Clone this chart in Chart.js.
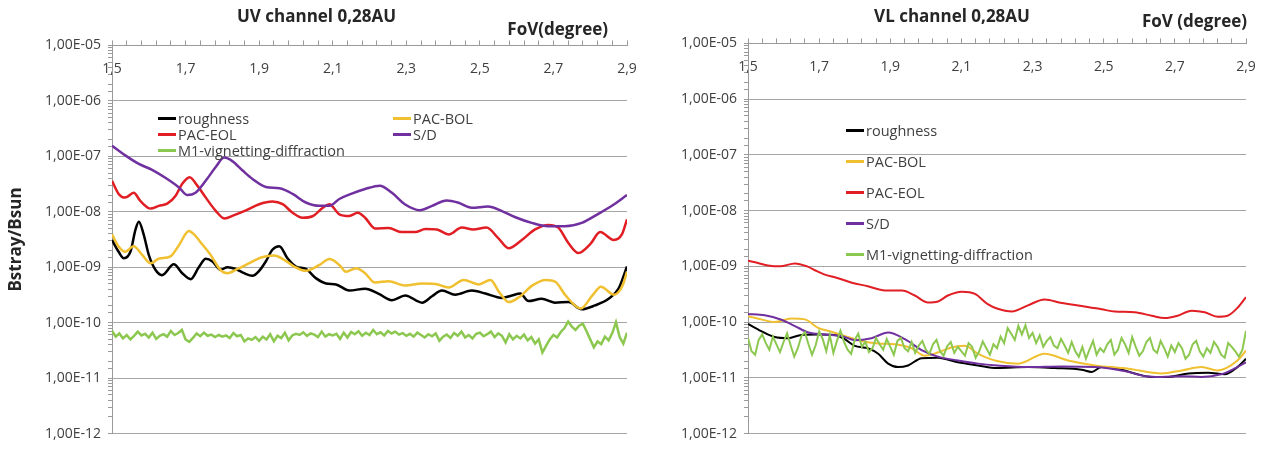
<!DOCTYPE html>
<html>
<head>
<meta charset="utf-8">
<script src="https://cdn.jsdelivr.net/npm/chart.js@4.4.1/dist/chart.umd.min.js"></script>
<style>
  body { margin: 0; background: #fff; font-family: "Open Sans", sans-serif; }
  .panel { position: absolute; top: 0; height: 449px; }
  .fov { position: absolute; font-size: 17px; font-weight: bold; color: #262626; line-height: 19px; white-space: nowrap; }
  .legend { position: absolute; display: grid; font-size: 14.5px; color: #404040; }
  .legend .item { display: flex; align-items: center; white-space: nowrap; }
  .legend .sw { width: 18px; margin-right: 2px; }
</style>
</head>
<body>
<div class="panel" style="left:0;width:640px">
  <canvas id="uvChart" width="640" height="449"></canvas>
  <div class="fov" style="right:32px;top:19px">FoV(degree)</div>
  <div class="legend" id="uvLegend" style="left:158px;top:110px;grid-template-columns:235px auto;grid-auto-rows:16px"></div>
</div>
<div class="panel" style="left:640px;width:625px">
  <canvas id="vlChart" width="625" height="449"></canvas>
  <div class="fov" style="right:18px;top:11px">FoV (degree)</div>
  <div class="legend" id="vlLegend" style="left:206px;top:115px;grid-template-columns:auto;grid-auto-rows:31px"></div>
</div>
<script>
const SERIES_NAMES = ["roughness", "PAC-BOL", "PAC-EOL", "S/D", "M1-vignetting-diffraction"];
const SERIES_COLORS = ["#000000", "#F0C030", "#E01E24", "#7030A0", "#8CC850"];

const X_TICK_VALUES = [1.5, 1.7, 1.9, 2.1, 2.3, 2.5, 2.7, 2.9];
const X_TICK_LABELS = ["1,5", "1,7", "1,9", "2,1", "2,3", "2,5", "2,7", "2,9"];
const Y_TICK_LABELS = ["1,00E-12", "1,00E-11", "1,00E-10", "1,00E-09", "1,00E-08", "1,00E-07", "1,00E-06", "1,00E-05"];

// fine FoV grid used by the noisy M1 curves
const FOV_FINE = [
  1.50, 1.51, 1.52, 1.53, 1.54, 1.55, 1.56, 1.57, 1.58, 1.59,
  1.60, 1.61, 1.62, 1.63, 1.64, 1.65, 1.66, 1.67, 1.68, 1.69,
  1.70, 1.71, 1.72, 1.73, 1.74, 1.75, 1.76, 1.77, 1.78, 1.79,
  1.80, 1.81, 1.82, 1.83, 1.84, 1.85, 1.86, 1.87, 1.88, 1.89,
  1.90, 1.91, 1.92, 1.93, 1.94, 1.95, 1.96, 1.97, 1.98, 1.99,
  2.00, 2.01, 2.02, 2.03, 2.04, 2.05, 2.06, 2.07, 2.08, 2.09,
  2.10, 2.11, 2.12, 2.13, 2.14, 2.15, 2.16, 2.17, 2.18, 2.19,
  2.20, 2.21, 2.22, 2.23, 2.24, 2.25, 2.26, 2.27, 2.28, 2.29,
  2.30, 2.31, 2.32, 2.33, 2.34, 2.35, 2.36, 2.37, 2.38, 2.39,
  2.40, 2.41, 2.42, 2.43, 2.44, 2.45, 2.46, 2.47, 2.48, 2.49,
  2.50, 2.51, 2.52, 2.53, 2.54, 2.55, 2.56, 2.57, 2.58, 2.59,
  2.60, 2.61, 2.62, 2.63, 2.64, 2.65, 2.66, 2.67, 2.68, 2.69,
  2.70, 2.71, 2.72, 2.73, 2.74, 2.75, 2.76, 2.77, 2.78, 2.79,
  2.80, 2.81, 2.82, 2.83, 2.84, 2.85, 2.86, 2.87, 2.88, 2.89,
  2.90
];

// ---- UV channel ----
const UV_ROUGH_X = [1.5, 1.518, 1.532, 1.55, 1.564, 1.573, 1.586, 1.6, 1.618, 1.636, 1.668, 1.691, 1.714, 1.736, 1.755, 1.773, 1.795, 1.814, 1.836, 1.859, 1.882, 1.9, 1.918, 1.936, 1.955, 1.977, 2.0, 2.027, 2.055, 2.082, 2.109, 2.145, 2.188, 2.224, 2.261, 2.297, 2.343, 2.37, 2.397, 2.433, 2.478, 2.515, 2.56, 2.587, 2.61, 2.632, 2.668, 2.704, 2.741, 2.777, 2.813, 2.85, 2.877, 2.9];
const UV_ROUGH = [3.1e-9, 1.9e-9, 1.45e-9, 1.9e-9, 4.8e-9, 6.6e-9, 3.9e-9, 1.67e-9, 9e-10, 7.2e-10, 1.13e-9, 7.8e-10, 6.1e-10, 1.0e-9, 1.42e-9, 1.27e-9, 9e-10, 1.0e-9, 9.3e-10, 7.8e-10, 7e-10, 8.6e-10, 1.27e-9, 2.07e-9, 2.4e-9, 1.45e-9, 1.03e-9, 9.3e-10, 6.3e-10, 5.1e-10, 4.9e-10, 3.8e-10, 4.1e-10, 3.35e-10, 2.55e-10, 3.1e-10, 2.3e-10, 3.0e-10, 3.8e-10, 3.2e-10, 3.8e-10, 3.35e-10, 2.8e-10, 3.1e-10, 3.35e-10, 2.45e-10, 2.7e-10, 2.3e-10, 2.35e-10, 1.75e-10, 2.05e-10, 2.7e-10, 4.1e-10, 1.03e-9];

const UV_BOL_X = [1.5, 1.518, 1.536, 1.559, 1.582, 1.605, 1.627, 1.659, 1.682, 1.709, 1.723, 1.745, 1.768, 1.795, 1.814, 1.841, 1.873, 1.905, 1.941, 1.968, 1.995, 2.027, 2.064, 2.091, 2.118, 2.136, 2.164, 2.188, 2.215, 2.252, 2.297, 2.343, 2.379, 2.415, 2.456, 2.497, 2.529, 2.552, 2.579, 2.607, 2.643, 2.679, 2.706, 2.733, 2.774, 2.806, 2.829, 2.865, 2.888, 2.9];
const UV_BOL = [3.9e-9, 2.37e-9, 1.9e-9, 2.4e-9, 1.67e-9, 1.18e-9, 1.42e-9, 1.57e-9, 2.5e-9, 4.5e-9, 3.9e-9, 2.6e-9, 1.67e-9, 8.9e-10, 7.8e-10, 9.3e-10, 1.18e-9, 1.5e-9, 1.63e-9, 1.36e-9, 1.03e-9, 8.6e-10, 1.1e-9, 1.4e-9, 1.1e-9, 8.3e-10, 9.6e-10, 7.8e-10, 5.3e-10, 5.6e-10, 4.7e-10, 5.1e-10, 5.0e-10, 4.3e-10, 5.9e-10, 4.9e-10, 5.9e-10, 3.6e-10, 2.35e-10, 2.9e-10, 4.7e-10, 5.9e-10, 5.4e-10, 3.1e-10, 1.8e-10, 3.1e-10, 4.45e-10, 3.2e-10, 4.7e-10, 8.3e-10];

const UV_EOL_X = [1.5, 1.518, 1.536, 1.559, 1.577, 1.605, 1.627, 1.65, 1.673, 1.691, 1.711, 1.732, 1.755, 1.782, 1.805, 1.832, 1.864, 1.9, 1.936, 1.964, 1.991, 2.018, 2.045, 2.073, 2.091, 2.118, 2.145, 2.168, 2.188, 2.215, 2.252, 2.288, 2.324, 2.352, 2.383, 2.415, 2.451, 2.482, 2.518, 2.55, 2.578, 2.614, 2.65, 2.686, 2.713, 2.741, 2.768, 2.8, 2.827, 2.864, 2.886, 2.9];
const UV_EOL = [3.6e-8, 2.1e-8, 1.8e-8, 2.2e-8, 1.57e-8, 1.14e-8, 1.28e-8, 1.4e-8, 1.95e-8, 3.2e-8, 4.2e-8, 2.96e-8, 1.8e-8, 1.04e-8, 7.6e-9, 8.7e-9, 1.06e-8, 1.37e-8, 1.53e-8, 1.37e-8, 9.6e-9, 7.8e-9, 8.3e-9, 1.18e-8, 1.37e-8, 9e-9, 8.4e-9, 9.6e-9, 7.8e-9, 5.0e-9, 5.1e-9, 4.3e-9, 4.3e-9, 4.9e-9, 4.8e-9, 3.9e-9, 5.2e-9, 4.8e-9, 5.2e-9, 3.35e-9, 2.2e-9, 3.1e-9, 4.8e-9, 5.8e-9, 5.2e-9, 2.7e-9, 1.8e-9, 2.6e-9, 4.3e-9, 3.1e-9, 3.9e-9, 7.3e-9];

const UV_SD_X = [1.5, 1.536, 1.573, 1.609, 1.645, 1.682, 1.705, 1.727, 1.755, 1.782, 1.805, 1.827, 1.855, 1.882, 1.918, 1.955, 1.991, 2.027, 2.064, 2.091, 2.118, 2.15, 2.188, 2.228, 2.261, 2.296, 2.337, 2.37, 2.41, 2.44, 2.478, 2.522, 2.56, 2.595, 2.641, 2.685, 2.731, 2.777, 2.82, 2.859, 2.9];
const UV_SD = [1.55e-7, 1.04e-7, 7.3e-8, 5.7e-8, 4.1e-8, 2.75e-8, 2.0e-8, 2.2e-8, 3.65e-8, 6.4e-8, 9.5e-8, 8.2e-8, 5.55e-8, 3.9e-8, 2.8e-8, 2.65e-8, 2.1e-8, 1.47e-8, 1.28e-8, 1.28e-8, 1.7e-8, 2.1e-8, 2.57e-8, 2.96e-8, 2.2e-8, 1.37e-8, 1.07e-8, 1.28e-8, 1.6e-8, 1.47e-8, 1.18e-8, 1.24e-8, 1.03e-8, 8.05e-9, 6.3e-9, 5.5e-9, 5.5e-9, 6.3e-9, 9e-9, 1.28e-8, 2.0e-8];

const UV_M1 = [
  7.2e-11, 5.6e-11, 6.4e-11, 5.2e-11, 6.0e-11, 5.0e-11, 5.8e-11, 6.9e-11, 5.9e-11, 6.3e-11,
  5.4e-11, 6.6e-11, 5.1e-11, 5.8e-11, 6.2e-11, 5.6e-11, 7.1e-11, 6.0e-11, 6.5e-11, 7.4e-11,
  5.0e-11, 4.5e-11, 5.3e-11, 6.4e-11, 5.7e-11, 6.6e-11, 5.8e-11, 6.1e-11, 5.5e-11, 6.0e-11,
  5.6e-11, 5.9e-11, 5.3e-11, 6.5e-11, 5.7e-11, 6.0e-11, 4.6e-11, 5.2e-11, 4.9e-11, 5.5e-11,
  4.7e-11, 5.6e-11, 5.0e-11, 6.2e-11, 4.6e-11, 5.8e-11, 5.3e-11, 6.6e-11, 4.8e-11, 5.9e-11,
  6.3e-11, 6.0e-11, 6.7e-11, 5.8e-11, 6.4e-11, 6.1e-11, 5.5e-11, 6.9e-11, 5.6e-11, 6.2e-11,
  5.9e-11, 6.3e-11, 5.1e-11, 6.6e-11, 5.4e-11, 6.8e-11, 6.2e-11, 7.0e-11, 5.8e-11, 6.6e-11,
  6.0e-11, 7.4e-11, 6.2e-11, 6.7e-11, 5.9e-11, 7.1e-11, 6.4e-11, 6.9e-11, 6.1e-11, 6.5e-11,
  5.8e-11, 6.3e-11, 5.6e-11, 6.6e-11, 6.0e-11, 5.4e-11, 6.2e-11, 5.7e-11, 6.4e-11, 4.7e-11,
  5.6e-11, 6.1e-11, 5.3e-11, 6.5e-11, 5.8e-11, 6.9e-11, 5.4e-11, 6.0e-11, 5.2e-11, 6.3e-11,
  6.6e-11, 5.7e-11, 6.2e-11, 6.9e-11, 5.5e-11, 6.4e-11, 5.8e-11, 4.4e-11, 6.2e-11, 5.0e-11,
  5.8e-11, 5.2e-11, 6.1e-11, 4.8e-11, 5.5e-11, 4.2e-11, 5.0e-11, 2.9e-11, 3.8e-11, 5.0e-11,
  6.0e-11, 5.4e-11, 6.8e-11, 8.0e-11, 10.5e-11, 8.5e-11, 7.4e-11, 8.8e-11, 9.6e-11, 7.0e-11,
  5.0e-11, 3.6e-11, 4.6e-11, 4.1e-11, 5.6e-11, 4.8e-11, 6.5e-11, 10.2e-11, 5.5e-11, 4.2e-11,
  6.6e-11
];

// ---- VL channel ----
const VL_ROUGH_X = [1.5, 1.537, 1.575, 1.613, 1.65, 1.697, 1.744, 1.772, 1.8, 1.837, 1.866, 1.894, 1.922, 1.95, 1.988, 2.034, 2.09, 2.147, 2.2, 2.287, 2.363, 2.438, 2.466, 2.494, 2.531, 2.587, 2.635, 2.682, 2.738, 2.794, 2.84, 2.876, 2.9];
const VL_ROUGH = [9.3e-11, 6.9e-11, 5.4e-11, 5.15e-11, 5.9e-11, 6.0e-11, 5.9e-11, 4.95e-11, 3.75e-11, 3.4e-11, 2.7e-11, 1.8e-11, 1.56e-11, 1.67e-11, 2.25e-11, 2.3e-11, 1.9e-11, 1.67e-11, 1.5e-11, 1.56e-11, 1.5e-11, 1.4e-11, 1.28e-11, 1.56e-11, 1.5e-11, 1.2e-11, 1.04e-11, 1.04e-11, 1.2e-11, 1.24e-11, 1.16e-11, 1.56e-11, 2.2e-11];

const VL_BOL_X = [1.5, 1.537, 1.575, 1.622, 1.66, 1.697, 1.735, 1.772, 1.819, 1.866, 1.913, 1.96, 1.997, 2.034, 2.071, 2.109, 2.147, 2.2, 2.26, 2.334, 2.4, 2.475, 2.569, 2.663, 2.72, 2.775, 2.82, 2.876, 2.9];
const VL_BOL = [1.28e-10, 1.12e-10, 1.0e-10, 1.16e-10, 1.12e-10, 7.9e-11, 6.7e-11, 5.65e-11, 4.6e-11, 4.15e-11, 4.0e-11, 3.4e-11, 2.5e-11, 2.85e-11, 3.5e-11, 3.75e-11, 2.7e-11, 2.0e-11, 1.8e-11, 2.7e-11, 2.05e-11, 1.67e-11, 1.46e-11, 1.2e-11, 1.36e-11, 1.56e-11, 1.36e-11, 2.05e-11, 3.1e-11];

const VL_EOL_X = [1.5, 1.528, 1.556, 1.59, 1.632, 1.666, 1.694, 1.716, 1.744, 1.792, 1.837, 1.885, 1.933, 1.969, 2.006, 2.034, 2.062, 2.101, 2.138, 2.174, 2.2, 2.242, 2.287, 2.334, 2.382, 2.438, 2.494, 2.531, 2.587, 2.635, 2.671, 2.708, 2.747, 2.784, 2.82, 2.848, 2.876, 2.9];
const VL_EOL = [1.26e-9, 1.15e-9, 1.04e-9, 1.0e-9, 1.13e-9, 1.0e-9, 8.2e-10, 7.1e-10, 6.4e-10, 5.1e-10, 4.4e-10, 3.7e-10, 3.7e-10, 3.0e-10, 2.25e-10, 2.35e-10, 3.0e-10, 3.5e-10, 3.2e-10, 2.1e-10, 1.75e-10, 1.55e-10, 2.0e-10, 2.55e-10, 2.2e-10, 1.95e-10, 1.7e-10, 1.55e-10, 1.5e-10, 1.3e-10, 1.18e-10, 1.3e-10, 1.6e-10, 1.5e-10, 1.25e-10, 1.3e-10, 1.8e-10, 2.8e-10];

const VL_SD_X = [1.5, 1.547, 1.594, 1.632, 1.67, 1.716, 1.763, 1.8, 1.847, 1.894, 1.941, 1.988, 2.034, 2.09, 2.147, 2.2, 2.287, 2.382, 2.475, 2.569, 2.616, 2.663, 2.72, 2.775, 2.83, 2.867, 2.9];
const VL_SD = [1.4e-10, 1.33e-10, 1.1e-10, 8.5e-11, 6.5e-11, 6.0e-11, 5.65e-11, 4.75e-11, 5.15e-11, 6.5e-11, 4.95e-11, 3.15e-11, 2.4e-11, 2.05e-11, 1.8e-11, 1.67e-11, 1.56e-11, 1.6e-11, 1.56e-11, 1.28e-11, 1.07e-11, 1.04e-11, 1.07e-11, 1.04e-11, 1.16e-11, 1.46e-11, 1.9e-11];

const VL_M1 = [
  5.2e-11, 3.0e-11, 2.6e-11, 4.8e-11, 6.0e-11, 4.2e-11, 3.2e-11, 5.5e-11, 4.0e-11, 2.9e-11,
  4.4e-11, 6.3e-11, 3.8e-11, 2.4e-11, 3.4e-11, 5.6e-11, 6.6e-11, 4.0e-11, 2.6e-11, 3.8e-11,
  6.8e-11, 5.0e-11, 3.0e-11, 5.8e-11, 2.8e-11, 4.6e-11, 7.0e-11, 4.4e-11, 3.2e-11, 2.7e-11,
  4.8e-11, 6.2e-11, 3.6e-11, 4.4e-11, 2.9e-11, 3.4e-11, 5.2e-11, 4.0e-11, 3.2e-11, 5.0e-11,
  3.6e-11, 2.6e-11, 4.6e-11, 5.2e-11, 3.4e-11, 3.0e-11, 4.4e-11, 2.8e-11, 3.8e-11, 4.6e-11,
  3.2e-11, 2.7e-11, 4.0e-11, 4.8e-11, 3.0e-11, 2.5e-11, 3.7e-11, 4.4e-11, 2.8e-11, 3.6e-11,
  3.0e-11, 2.5e-11, 4.2e-11, 3.6e-11, 2.3e-11, 3.0e-11, 4.5e-11, 3.4e-11, 2.6e-11, 4.0e-11,
  3.4e-11, 5.5e-11, 4.2e-11, 7.8e-11, 6.2e-11, 4.8e-11, 8.6e-11, 6.0e-11, 8.8e-11, 5.2e-11,
  6.4e-11, 4.2e-11, 5.8e-11, 3.6e-11, 4.6e-11, 5.4e-11, 3.8e-11, 3.4e-11, 5.0e-11, 3.8e-11,
  2.8e-11, 4.4e-11, 3.0e-11, 2.4e-11, 3.6e-11, 2.2e-11, 3.2e-11, 4.6e-11, 2.6e-11, 3.4e-11,
  2.9e-11, 4.0e-11, 4.8e-11, 2.6e-11, 3.2e-11, 5.2e-11, 4.0e-11, 2.8e-11, 5.4e-11, 3.6e-11,
  2.5e-11, 3.0e-11, 4.4e-11, 5.2e-11, 3.2e-11, 2.8e-11, 4.6e-11, 3.4e-11, 2.4e-11, 3.8e-11,
  2.9e-11, 4.2e-11, 3.4e-11, 2.2e-11, 2.6e-11, 4.0e-11, 4.6e-11, 3.0e-11, 2.4e-11, 3.4e-11,
  2.8e-11, 4.4e-11, 3.6e-11, 2.6e-11, 2.3e-11, 4.2e-11, 3.6e-11, 3.0e-11, 2.4e-11, 3.2e-11,
  7.0e-11
];

const FONT = "'Open Sans', sans-serif";
const TEXT = "#404040";
const AXIS = "#9a9a9a";
const GRID = "#a6a6a6";

Chart.defaults.font.family = FONT;

function isDecade(v) {
  if (!v) return false;
  const e = Math.log10(v);
  return Math.abs(e - Math.round(e)) < 1e-6;
}

function toPoints(xs, ys) {
  return xs.map((x, i) => ({ x, y: ys[i] }));
}

function makeDatasets(seriesData, lineWidth) {
  return seriesData.map((pts, i) => {
    const noisy = i === 4;
    return {
      label: SERIES_NAMES[i],
      data: pts,
      borderColor: SERIES_COLORS[i],
      backgroundColor: SERIES_COLORS[i],
      borderWidth: lineWidth,
      pointRadius: 0,
      fill: false,
      tension: noisy ? 0 : 0.4,
      cubicInterpolationMode: noisy ? "default" : "monotone",
      order: 4 - i
    };
  });
}

function buildLegend(el) {
  SERIES_NAMES.forEach((name, i) => {
    const item = document.createElement("div");
    item.className = "item";
    const sw = document.createElement("span");
    sw.className = "sw";
    sw.style.height = "3px";
    sw.style.background = SERIES_COLORS[i];
    const label = document.createElement("span");
    label.textContent = name;
    item.appendChild(sw);
    item.appendChild(label);
    el.appendChild(item);
  });
}

function createChart(canvasId, opts) {
  const ctx = document.getElementById(canvasId);
  return new Chart(ctx, {
    type: "line",
    data: { datasets: makeDatasets(opts.series, opts.lineWidth) },
    options: {
      responsive: false,
      animation: false,
      devicePixelRatio: 1,
      layout: { padding: opts.padding },
      plugins: {
        legend: { display: false },
        tooltip: { enabled: false },
        title: {
          display: true,
          text: opts.title,
          color: "#262626",
          font: { size: 17, weight: "bold" },
          padding: { top: 7, bottom: opts.titleGap }
        }
      },
      scales: {
        x: {
          type: "linear",
          position: "top",
          min: 1.5,
          max: 2.9,
          afterFit(scale) {
            // thin axis box; the end labels may spill into the layout padding
            scale.height = 6;
            scale.paddingLeft = 0;
            scale.paddingRight = 0;
          },
          border: { color: AXIS },
          grid: { drawOnChartArea: false, tickColor: AXIS, tickLength: 5 },
          ticks: {
            stepSize: 0.04,
            autoSkip: false,
            minRotation: 0,
            maxRotation: 0,
            // labels sit just under the axis line, inside the plot
            mirror: true,
            padding: 15,
            color: TEXT,
            font: { size: 14 },
            callback(value) {
              const i = X_TICK_VALUES.findIndex((v) => Math.abs(v - value) < 1e-6);
              return i >= 0 ? X_TICK_LABELS[i] : "";
            }
          }
        },
        y: {
          type: "logarithmic",
          min: 1e-12,
          max: 1e-5,
          afterFit(scale) {
            scale.width = opts.yWidth;
          },
          border: { color: AXIS },
          grid: {
            color: (c) => (c.tick && isDecade(c.tick.value) ? GRID : "rgba(0,0,0,0)"),
            tickColor: AXIS,
            tickLength: 4
          },
          ticks: {
            autoSkip: false,
            padding: 7,
            color: TEXT,
            font: { size: 14 },
            callback(value) {
              if (!isDecade(value)) return "";
              return Y_TICK_LABELS[Math.round(Math.log10(value)) + 12];
            }
          },
          title: {
            display: !!opts.yTitle,
            text: opts.yTitle || "",
            color: "#262626",
            font: { size: 17, weight: "bold" },
            padding: { top: 0, bottom: 0 }
          }
        }
      }
    }
  });
}

createChart("uvChart", {
  title: "UV channel 0,28AU",
  yTitle: "Bstray/Bsun",
  padding: { left: 6, right: 13, top: 0, bottom: 14 },
  titleGap: 12,
  yWidth: 106,
  lineWidth: 2.5,
  series: [
    toPoints(UV_ROUGH_X, UV_ROUGH),
    toPoints(UV_BOL_X, UV_BOL),
    toPoints(UV_EOL_X, UV_EOL),
    toPoints(UV_SD_X, UV_SD),
    toPoints(FOV_FINE, UV_M1)
  ]
});

createChart("vlChart", {
  title: "VL channel 0,28AU",
  yTitle: null,
  padding: { left: 18, right: 19, top: 0, bottom: 10 },
  titleGap: 10,
  yWidth: 90,
  lineWidth: 2,
  series: [
    toPoints(VL_ROUGH_X, VL_ROUGH),
    toPoints(VL_BOL_X, VL_BOL),
    toPoints(VL_EOL_X, VL_EOL),
    toPoints(VL_SD_X, VL_SD),
    toPoints(FOV_FINE, VL_M1)
  ]
});

buildLegend(document.getElementById("uvLegend"));
buildLegend(document.getElementById("vlLegend"));
</script>
</body>
</html>
